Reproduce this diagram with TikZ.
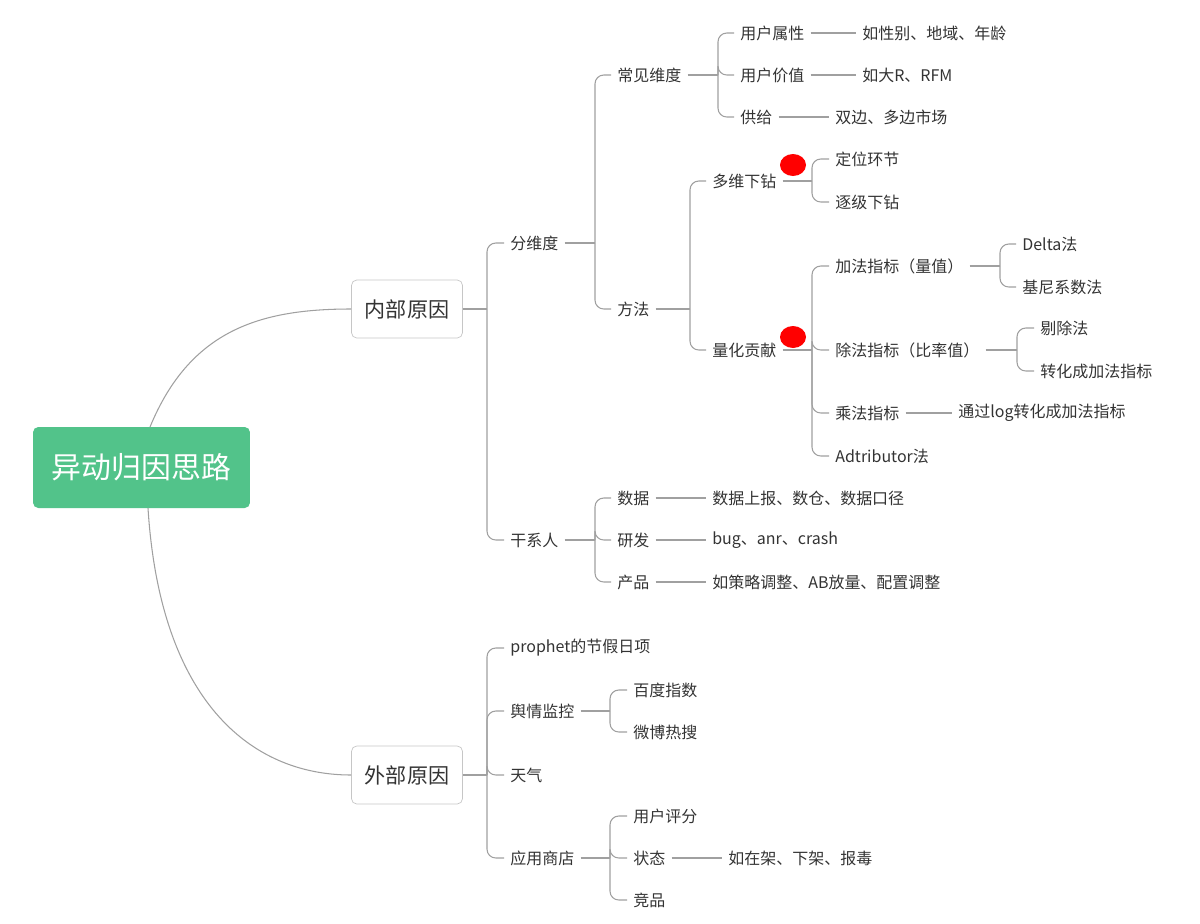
\documentclass[tikz,border=0pt]{standalone}
\usepackage{fontspec}
\setmainfont{Noto Sans CJK SC}
\usetikzlibrary{positioning}
\definecolor{mapgreen}{HTML}{52C38A}
\definecolor{linegray}{HTML}{A0A0A0}
\definecolor{txtgray}{HTML}{333333}
\tikzset{
  t/.style={anchor=west, inner sep=0.12cm, text=txtgray, font=\fontsize{9.1}{10}\selectfont},
  box/.style={draw=linegray!60, rounded corners=3pt, minimum width=2.22cm, minimum height=1.16cm,
    text=txtgray, font=\fontsize{12}{14}\selectfont},
  link/.style={draw=linegray, line width=0.6pt, rounded corners=5pt},
  dot/.style={fill=red, draw=none}
}
\begin{document}
\begin{tikzpicture}[x=0.02cm, y=-0.02cm]
\useasboundingbox (0,0) rectangle (1200,923);
% root and the two main boxes
\node[fill=mapgreen, rounded corners=3pt, minimum width=4.34cm, minimum height=1.62cm,
  text=white, font=\fontsize{17}{20}\selectfont] (root) at (141.5,467.5) {异动归因思路};
\node[box] (nb) at (407,309) {内部原因};
\node[box] (wb) at (407,775) {外部原因};
\draw[link] (150,427) .. controls (190,330) and (260,309) .. (nb.west);
\draw[link] (148,508) .. controls (160,700) and (250,775) .. (wb.west);

% inner causes
\node[t] (fwd) at (504,243) {分维度};
\node[t] (gxr) at (504,540) {干系人};
\draw[link] (nb.east) -- (487,309) coordinate (nb-t);
\foreach \c in {fwd,gxr} \draw[link] (nb-t) |- (\c.west);

\node[t] (cj) at (611,75) {常见维度};
\node[t] (ff) at (611,309) {方法};
\draw[link] (fwd.east) -- (595,243) coordinate (fwd-t);
\foreach \c in {cj,ff} \draw[link] (fwd-t) |- (\c.west);

\node[t] (sx) at (734,33) {用户属性};
\node[t] (jz) at (734,75) {用户价值};
\node[t] (gj) at (734,117) {供给};
\draw[link] (cj.east) -- (718,75) coordinate (cj-t);
\foreach \c in {sx,jz,gj} \draw[link] (cj-t) |- (\c.west);
\node[t] (sx1) at (856,33) {如性别、地域、年龄};
\node[t] (jz1) at (856,75) {如大R、RFM};
\node[t] (gj1) at (829,117) {双边、多边市场};
\draw[link] (sx.east) -- (sx1.west);
\draw[link] (jz.east) -- (jz1.west);
\draw[link] (gj.east) -- (gj1.west);

\node[t] (dw) at (706,181) {多维下钻};
\node[t] (lh) at (706,350) {量化贡献};
\draw[link] (ff.east) -- (690,309) coordinate (ff-t);
\foreach \c in {dw,lh} \draw[link] (ff-t) |- (\c.west);

\node[t] (dwh) at (829,159) {定位环节};
\node[t] (zj) at (829,202) {逐级下钻};
\draw[link] (dw.east) -- (812,181) coordinate (dw-t);
\foreach \c in {dwh,zj} \draw[link] (dw-t) |- (\c.west);
\fill[dot] (793,165) ellipse (13 and 11);

\node[t] (jf) at (829,266) {加法指标（量值）};
\node[t] (cf) at (829,350) {除法指标（比率值）};
\node[t] (cs) at (829,413) {乘法指标};
\node[t] (ad) at (829,456) {Adtributor法};
\draw[link] (lh.east) -- (812,350) coordinate (lh-t);
\foreach \c in {jf,cf,cs,ad} \draw[link] (lh-t) |- (\c.west);
\fill[dot] (793,337) ellipse (13 and 11);

\node[t] (dl) at (1016,244) {Delta法};
\node[t] (jn) at (1016,287) {基尼系数法};
\draw[link] (jf.east) -- (1000,266) coordinate (jf-t);
\foreach \c in {dl,jn} \draw[link] (jf-t) |- (\c.west);
\node[t] (tc) at (1034,328) {剔除法};
\node[t] (zh) at (1034,371) {转化成加法指标};
\draw[link] (cf.east) -- (1017,350) coordinate (cf-t);
\foreach \c in {tc,zh} \draw[link] (cf-t) |- (\c.west);
\node[t] (cs1) at (952,413) {通过log转化成加法指标};
\draw[link] (cs.east) -- (cs1.west);

\node[t] (sj) at (611,498) {数据};
\node[t] (yf) at (611,540) {研发};
\node[t] (cp) at (611,582) {产品};
\draw[link] (gxr.east) -- (595,540) coordinate (gxr-t);
\foreach \c in {sj,yf,cp} \draw[link] (gxr-t) |- (\c.west);
\node[t] (sj1) at (706,498) {数据上报、数仓、数据口径};
\node[t] (yf1) at (706,540) {bug、anr、crash};
\node[t] (cp1) at (706,582) {如策略调整、AB放量、配置调整};
\draw[link] (sj.east) -- (sj1.west);
\draw[link] (yf.east) -- (yf1.west);
\draw[link] (cp.east) -- (cp1.west);

% outer causes
\node[t] (pr) at (504,648) {prophet的节假日项};
\node[t] (yq) at (504,711) {舆情监控};
\node[t] (tq) at (504,775) {天气};
\node[t] (yy) at (504,858) {应用商店};
\draw[link] (wb.east) -- (487,775) coordinate (wb-t);
\foreach \c in {pr,yq,tq,yy} \draw[link] (wb-t) |- (\c.west);

\node[t] (bd) at (627,690) {百度指数};
\node[t] (wbo) at (627,732) {微博热搜};
\draw[link] (yq.east) -- (610,711) coordinate (yq-t);
\foreach \c in {bd,wbo} \draw[link] (yq-t) |- (\c.west);

\node[t] (pf) at (627,816) {用户评分};
\node[t] (zt) at (627,858) {状态};
\node[t] (jp) at (627,900) {竞品};
\draw[link] (yy.east) -- (610,858) coordinate (yy-t);
\foreach \c in {pf,zt,jp} \draw[link] (yy-t) |- (\c.west);
\node[t] (zt1) at (722,858) {如在架、下架、报毒};
\draw[link] (zt.east) -- (zt1.west);
\end{tikzpicture}
\end{document}
